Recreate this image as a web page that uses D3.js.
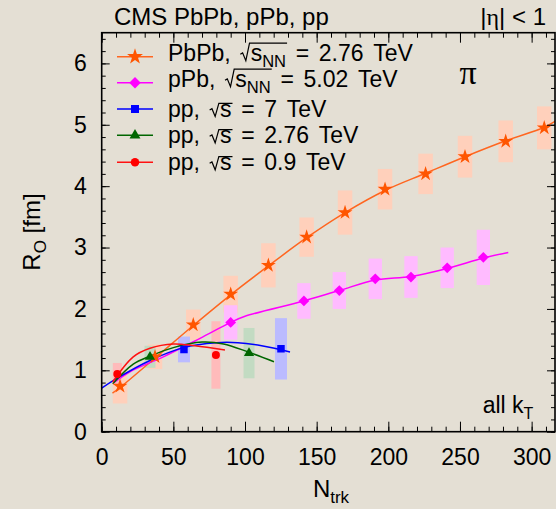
<!DOCTYPE html>
<html>
<head>
<meta charset="utf-8">
<script src="https://cdn.jsdelivr.net/npm/d3@7"></script>
<style>
  body { margin: 0; background: #e4dfd4; }
  svg text { font-family: "Liberation Sans", Arial, sans-serif; fill: #000; }
</style>
</head>
<body>
<svg id="chart"></svg>
<script>
// Datos
const xTicks = [0, 50, 100, 150, 200, 250, 300]
const yTicks = [0, 1, 2, 3, 4, 5, 6]

// PbPb 2.76 TeV
const pbpbN = [12.8, 37.2, 63.9, 90, 116.3, 143, 169.8, 197.7, 226, 253.5, 281.9, 308.8]
const pbpbR = [0.74, 1.22, 1.74, 2.24, 2.71, 3.17, 3.57, 3.95, 4.20, 4.48, 4.73, 4.95]
const pbpbErr = [0.28, 0.2, 0.25, 0.3, 0.36, 0.32, 0.36, 0.33, 0.33, 0.34, 0.34, 0.35]
const pbpbFitN = [7.5, 12.8, 37.2, 63.9, 90, 116.3, 143, 169.8, 197.7, 226, 253.5, 281.9, 308.8, 318]
const pbpbFitR = [0.63, 0.72, 1.2, 1.73, 2.23, 2.70, 3.16, 3.57, 3.93, 4.21, 4.48, 4.74, 4.96, 5.08]

// pPb 5.02 TeV
const ppbN = [90, 141.1, 165.8, 190.9, 215.8, 241.1, 266.3]
const ppbR = [1.78, 2.13, 2.30, 2.49, 2.52, 2.67, 2.84]
const ppbErr = [0.28, 0.29, 0.30, 0.33, 0.34, 0.33, 0.45]
const ppbFitN = [8, 20, 43, 68.6, 90, 100, 141.1, 165.8, 190.9, 215.8, 241.1, 266.3, 283.7]
const ppbFitR = [0.79, 0.98, 1.22, 1.52, 1.78, 1.88, 2.13, 2.30, 2.47, 2.53, 2.66, 2.83, 2.92]

// pp 7 TeV
const pp7N = [57.4, 125.1]
const pp7R = [1.34, 1.35]
const pp7Err = [0.21, 0.5]
const pp7FitN = [0, 10, 33.7, 57, 80, 95, 111.6, 131.4]
const pp7FitR = [0.71, 0.86, 1.16, 1.37, 1.45, 1.45, 1.40, 1.30]

// pp 2.76 TeV
const pp276N = [33.7, 102.8]
const pp276R = [1.22, 1.28]
const pp276Err = [0.18, 0.41]
const pp276FitN = [7.7, 22, 33.7, 50, 70, 85, 102, 120.2]
const pp276FitR = [0.78, 1.1, 1.23, 1.37, 1.46, 1.43, 1.30, 1.14]

// pp 0.9 TeV
const pp09N = [10.9, 79.7]
const pp09R = [0.94, 1.25]
const pp09Err = [0.18, 0.55]
const pp09FitN = [7.7, 22, 33.7, 50, 65, 86]
const pp09FitR = [0.81, 1.22, 1.36, 1.43, 1.40, 1.33]

const series = [
  { n: pbpbN, r: pbpbR, e: pbpbErr, fn: pbpbFitN, fr: pbpbFitR, color: "#ff5500", line: "#ff6620", box: "#ffd0bb", bw: 14.5, sym: d3.symbolStar, size: 68, rot: 0,
    label: [{ t: "PbPb, " }, { rad: true, tall: true, parts: [{ t: "s" }, { t: "NN", sub: true }] }, { t: " = 2.76 TeV" }] },
  { n: ppbN, r: ppbR, e: ppbErr, fn: ppbFitN, fr: ppbFitR, color: "#ff00ff", line: "#ff00ff", box: "#ffbbff", bw: 13.3, sym: d3.symbolSquare, size: 58, rot: 45,
    label: [{ t: "pPb, " }, { rad: true, tall: true, parts: [{ t: "s" }, { t: "NN", sub: true }] }, { t: " = 5.02 TeV" }] },
  { n: pp7N, r: pp7R, e: pp7Err, fn: pp7FitN, fr: pp7FitR, color: "#0000ff", line: "#0000ff", box: "#bbbbff", bw: 12, sym: d3.symbolSquare, size: 56, rot: 0,
    label: [{ t: "pp, " }, { rad: true, parts: [{ t: "s" }] }, { t: " = 7 TeV" }] },
  { n: pp276N, r: pp276R, e: pp276Err, fn: pp276FitN, fr: pp276FitR, color: "#006600", line: "#006600", box: "#c2dbc2", bw: 11, sym: d3.symbolTriangle, size: 45, rot: 0,
    label: [{ t: "pp, " }, { rad: true, parts: [{ t: "s" }] }, { t: " = 2.76 TeV" }] },
  { n: pp09N, r: pp09R, e: pp09Err, fn: pp09FitN, fr: pp09FitR, color: "#ff0000", line: "#ff1111", box: "#ffbbbb", bw: 9, sym: d3.symbolCircle, size: 50, rot: 0,
    label: [{ t: "pp, " }, { rad: true, parts: [{ t: "s" }] }, { t: " = 0.9 TeV" }] },
]

// Lienzo
const W = 556, H = 509
const margins = { top: 32.7, right: 1, bottom: 77.3, left: 101.7 }
const ancho = W - margins.left - margins.right
const alto = H - margins.top - margins.bottom

const svg = d3.select("#chart").attr("width", W).attr("height", H)
svg.append("rect").attr("width", W).attr("height", H).attr("fill", "#e4dfd4")

const g = svg.append("g").attr("transform", `translate(${margins.left},${margins.top})`)

const x = d3.scaleLinear().domain([0, 316.3]).range([0, ancho])
const y = d3.scaleLinear().domain([0, 6.5]).range([alto, 0])

svg.append("clipPath").attr("id", "clip")
  .append("rect").attr("width", ancho).attr("height", alto)

const plot = g.append("g").attr("clip-path", "url(#clip)")

// Cajas de error sistematico
series.forEach(s => {
  plot.append("g").selectAll("rect")
    .data(s.n.map((n, i) => ({ n, r: s.r[i], e: s.e[i] })))
    .join("rect")
    .attr("x", d => x(d.n) - s.bw / 2)
    .attr("width", s.bw)
    .attr("y", d => y(d.r + d.e))
    .attr("height", d => y(d.r - d.e) - y(d.r + d.e))
    .attr("fill", s.box)
})

// Lineas de ajuste
const linea = d3.line().x(d => x(d[0])).y(d => y(d[1])).curve(d3.curveCatmullRom.alpha(0.5))
series.forEach(s => {
  plot.append("path")
    .datum(s.fn.map((n, i) => [n, s.fr[i]]))
    .attr("d", linea)
    .attr("fill", "none")
    .attr("stroke", s.line)
    .attr("stroke-width", 1.5)
})

// Marcadores
series.forEach(s => {
  plot.append("g").selectAll("path")
    .data(s.n.map((n, i) => [n, s.r[i]]))
    .join("path")
    .attr("d", d3.symbol().type(s.sym).size(s.size))
    .attr("transform", d => `translate(${x(d[0])},${y(d[1])}) rotate(${s.rot})`)
    .attr("fill", s.color)
})

// Ejes (ticks hacia dentro, estilo ROOT)
const xMinor = d3.range(0, 317, 10)
const yMinor = d3.range(0, 6.5, 0.2)
const clean = sel => sel.select(".domain").remove()

g.append("g").attr("transform", `translate(0,${alto})`)
  .call(d3.axisBottom(x).tickValues(xMinor).tickSize(-5).tickFormat("")).call(clean)
g.append("g").attr("transform", `translate(0,${alto})`)
  .call(d3.axisBottom(x).tickValues(xTicks).tickSize(-10).tickPadding(17).tickFormat(d3.format("d")))
  .call(clean)
  .call(a => a.selectAll("text").attr("font-size", 23).attr("font-family", null))

g.append("g").call(d3.axisTop(x).tickValues(xMinor).tickSize(-5).tickFormat("")).call(clean)
g.append("g").call(d3.axisTop(x).tickValues(xTicks).tickSize(-10).tickFormat("")).call(clean)

g.append("g").call(d3.axisLeft(y).tickValues(yMinor).tickSize(-4).tickFormat("")).call(clean)
g.append("g").call(d3.axisLeft(y).tickValues(yTicks).tickSize(-8).tickPadding(15).tickFormat(d3.format("d")))
  .call(clean)
  .call(a => a.selectAll("text").attr("font-size", 23).attr("font-family", null))

g.append("g").attr("transform", `translate(${ancho},0)`)
  .call(d3.axisRight(y).tickValues(yMinor).tickSize(-4).tickFormat("")).call(clean)
g.append("g").attr("transform", `translate(${ancho},0)`)
  .call(d3.axisRight(y).tickValues(yTicks).tickSize(-8).tickFormat("")).call(clean)

g.selectAll(".tick line").attr("stroke", "#000").attr("stroke-width", 1)

g.append("rect").attr("width", ancho).attr("height", alto)
  .attr("fill", "none").attr("stroke", "#000").attr("stroke-width", 1.6)

// Texto enriquecido: subindices, raiz cuadrada y espacios anchos como en TLatex
function richText(parent, x0, y0, parts, fs) {
  let cx = x0
  const spaceW = fs * 0.42
  parts.forEach(p => {
    if (p.rad) {
      const start = cx
      cx += fs * 0.45
      cx = richText(parent, cx, y0, p.parts, fs)
      const top = y0 - (p.tall ? fs * 0.76 : fs * 0.57)
      parent.append("path")
        .attr("d", `M${start},${y0 - fs * 0.28} L${start + fs * 0.1},${y0 - fs * 0.34} L${start + fs * 0.24},${y0} L${start + fs * 0.4},${top} L${cx + 1},${top}`)
        .attr("fill", "none").attr("stroke", "#000").attr("stroke-width", 1.2)
    } else {
      const size = p.sub ? fs * 0.72 : fs
      p.t.split(" ").forEach((word, k) => {
        if (k > 0) cx += spaceW
        if (!word) return
        const t = parent.append("text")
          .attr("x", cx)
          .attr("y", y0 + (p.sub ? fs * 0.27 : 0))
          .attr("font-size", size)
          .text(word)
        cx += t.node().getComputedTextLength()
      })
    }
  })
  return cx
}

// Leyenda
const legendY = [56.7, 82.7, 109, 135.3, 162.3]
const textShift = [4, 4, 7.5, 7.5, 7.5]
const legend = svg.append("g")
series.forEach((s, i) => {
  const ly = legendY[i]
  legend.append("line").attr("x1", 117).attr("x2", 153).attr("y1", ly).attr("y2", ly)
    .attr("stroke", s.line).attr("stroke-width", 1.5)
  legend.append("path")
    .attr("d", d3.symbol().type(s.sym).size(s.size * 1.15))
    .attr("transform", `translate(135,${ly}) rotate(${s.rot})`)
    .attr("fill", s.color)
  richText(legend, 168, ly + textShift[i], s.label, 23)
})

// Titulos
svg.append("text").attr("x", 114).attr("y", 25).attr("font-size", 24).text("CMS PbPb, pPb, pp")
const eta = svg.append("text").attr("x", 546).attr("y", 25).attr("font-size", 24).attr("text-anchor", "end")
eta.append("tspan").text("|")
eta.append("tspan").attr("font-family", "Liberation Serif, serif").text("η")
eta.append("tspan").text("| < 1")

svg.append("text").attr("x", 468).attr("y", 84).attr("font-size", 34)
  .attr("text-anchor", "middle").style("font-family", "Liberation Serif, serif").text("π")

const kt = svg.append("text").attr("x", 482.7).attr("y", 413).attr("font-size", 23)
kt.append("tspan").text("all k")
kt.append("tspan").attr("dy", 6).attr("font-size", 16).text("T")

// Etiquetas de ejes
const xl = svg.append("text").attr("x", 331).attr("y", 497).attr("font-size", 24).attr("text-anchor", "middle")
xl.append("tspan").text("N")
xl.append("tspan").attr("dy", 6).attr("font-size", 17).text("trk")

const yl = svg.append("text").attr("transform", "translate(40,232) rotate(-90)").attr("font-size", 24).attr("text-anchor", "middle")
yl.append("tspan").text("R")
yl.append("tspan").attr("dy", 6).attr("font-size", 17).text("O")
yl.append("tspan").attr("dy", -6).text("\u00a0[fm]")
</script>
</body>
</html>
